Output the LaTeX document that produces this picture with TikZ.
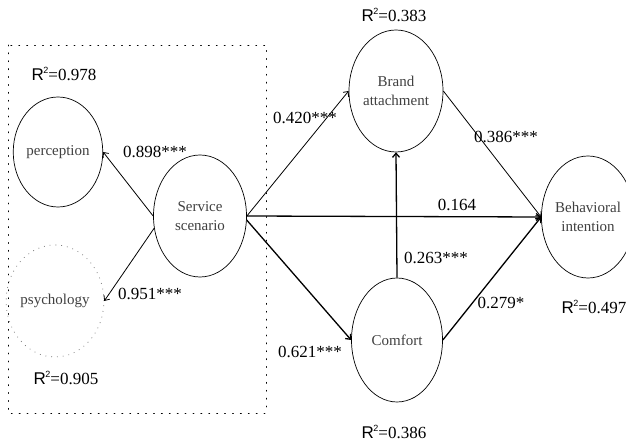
\documentclass[tikz,border=0pt]{standalone}
\usepackage{fontspec}
\setmainfont{Liberation Serif}
\newfontfamily\arialf{Liberation Sans}
\usetikzlibrary{shapes.geometric,arrows.meta}
\newcommand\rsq[1]{{\arialf R\kern-0.5pt\raisebox{0.45em}{\fontsize{9}{9}\selectfont 2}}=#1}
\tikzset{
  lv/.style={ellipse,draw,line width=0.7pt,inner sep=0pt,text=black!75,font=\fontsize{15}{17}\selectfont,align=center},
  num/.style={font=\fontsize{17}{17}\selectfont,inner sep=0pt},
  pth/.style={line width=0.8pt,-{Straight Barb[length=4pt,width=7pt]}},
  thk/.style={line width=1.3pt,-{Straight Barb[length=4pt,width=7pt]}}
}
\begin{document}
\begin{tikzpicture}[x=1pt,y=-1pt]
\useasboundingbox[fill=white] (0,0) rectangle (626,443);
% dotted group box
\draw[line width=0.9pt,dash pattern=on 0.9pt off 7pt,line cap=round] (8,45) rectangle (266,413);
% latent variables
\node[lv,minimum width=87pt,minimum height=110pt] (per) at (58,152) {perception};
\node[lv,draw=black!55,dash pattern=on 0.8pt off 5pt,minimum width=86pt,minimum height=112pt] (psy) at (55,301) {psychology};
\node[lv,minimum width=93pt,minimum height=122pt] (svc) at (200,216) {Service\\[2pt]scenario};
\node[lv,minimum width=94pt,minimum height=122pt] (bra) at (396,91) {Brand\\[2pt]attachment};
\node[lv,minimum width=91pt,minimum height=124pt] (com) at (397,340) {Comfort};
\node[lv,minimum width=92pt,minimum height=122pt] (beh) at (588,217) {Behavioral\\[2pt]intention};
% paths
\draw[pth] (svc.west) -- (per.east);
\draw[pth] (svc.195) -- (psy.east);
\draw[pth] (svc.east) -- (bra.west);
\draw[thk] (svc.east) -- (beh.west);
\draw[thk] (svc.355) -- (com.west);
\draw[thk] (com.north) -- (bra.south);
\draw[thk] (com.east) -- (beh.west);
\draw[pth] (bra.east) -- (beh.west);
% coefficients
\node[num] (c1) at (155,152) {0.898***};
\node[num] (c2) at (150,294) {0.951***};
\node[num] (c3) at (305,118) {0.420***};
\node[num] (c4) at (506,137) {0.386***};
\node[num] (c5) at (457,205) {0.164};
\node[num] (c6) at (436,258) {0.263***};
\node[num] (c7) at (501,303) {0.279*};
\node[num] (c8) at (310,352) {0.621***};
% R squared
\node[num] (r1) at (64,74) {\rsq{0.978}};
\node[num] (r2) at (66,378) {\rsq{0.905}};
\node[num] (r3) at (394,15) {\rsq{0.383}};
\node[num] (r4) at (594,307) {\rsq{0.497}};
\node[num] (r5) at (394,432) {\rsq{0.386}};
\end{tikzpicture}
\end{document}
